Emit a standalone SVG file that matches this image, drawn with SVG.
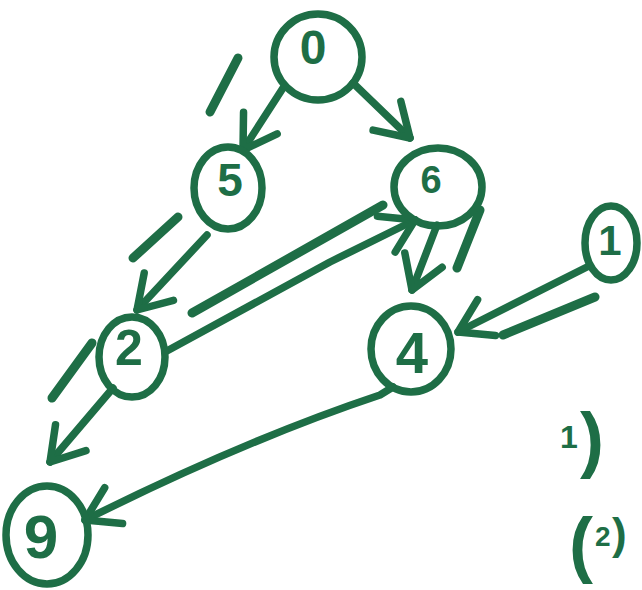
<svg xmlns="http://www.w3.org/2000/svg" width="642" height="590" viewBox="0 0 642 590">
<style>
.node{fill:none;stroke:#1e6e46;stroke-width:7.5}
.lbl{fill:#1e6e46;font-family:"Liberation Sans",Arial,sans-serif;font-weight:bold;text-anchor:middle}
.edge{fill:none;stroke:#1e6e46;stroke-width:7.5;stroke-linecap:round;stroke-linejoin:round;marker-end:url(#ah)}
.mark{fill:none;stroke:#1e6e46;stroke-width:9;stroke-linecap:round}
.note{fill:#1e6e46;font-family:"Liberation Sans",Arial,sans-serif;font-weight:bold}
</style>
<defs>
<marker id="ah" markerUnits="userSpaceOnUse" viewBox="-40 -30 50 60" refX="0" refY="0" markerWidth="50" markerHeight="60" orient="auto" overflow="visible">
<path d="M-32,-20 L0,0 L-32,20" fill="none" stroke="#1e6e46" stroke-width="7.5" stroke-linecap="round" stroke-linejoin="round"/>
</marker>
</defs>
<rect width="642" height="590" fill="#ffffff"/>
<g id="connectors">
<path class="edge" d="M283,88 L243,150"/>
<path class="edge" d="M353,83 L410,138"/>
<path class="edge" d="M207,235 L137,310"/>
<path class="edge" d="M437,225 L412,290"/>
<path class="edge" d="M165,352 L330,262 L415,220"/>
<path class="edge" d="M587,267 L458,332"/>
<path class="edge" d="M113,388 L50,462"/>
<path class="edge" d="M393,387 L380,395 Q245,440 85,520"/>
</g>
<g id="marks">
<line class="mark" x1="238" y1="58" x2="210" y2="112"/>
<line class="mark" x1="178" y1="217" x2="133" y2="258"/>
<line class="mark" x1="192" y1="313" x2="383" y2="205"/>
<line class="mark" x1="480" y1="210" x2="457" y2="268"/>
<line class="mark" x1="595" y1="297" x2="503" y2="335"/>
<line class="mark" x1="92" y1="343" x2="52" y2="398"/>
</g>
<g id="node0"><ellipse class="node" cx="318" cy="57" rx="44" ry="43"/><text class="lbl" x="313" y="64" font-size="48">0</text></g>
<g id="node5"><ellipse class="node" cx="228" cy="188" rx="34" ry="41"/><text class="lbl" x="230" y="196" font-size="46">5</text></g>
<g id="node6"><ellipse class="node" cx="438" cy="187" rx="44" ry="39"/><text class="lbl" x="431" y="193" font-size="38">6</text></g>
<g id="node2"><ellipse class="node" cx="132" cy="357" rx="33" ry="40"/><text class="lbl" x="129" y="365" font-size="50">2</text></g>
<g id="node4"><ellipse class="node" cx="411" cy="349" rx="40" ry="43"/><text class="lbl" x="412" y="373" font-size="58">4</text></g>
<g id="node1"><ellipse class="node" cx="611" cy="243" rx="26" ry="37"/><text class="lbl" x="610" y="255" font-size="42">1</text></g>
<g id="node9"><ellipse class="node" cx="47" cy="535" rx="41" ry="49"/><text class="lbl" x="41" y="558" font-size="62">9</text></g>
<text class="note"><tspan x="560" y="448" font-size="32">1</tspan><tspan x="580" y="464" font-size="72">)</tspan></text>
<text class="note"><tspan x="569" y="569" font-size="72">(</tspan><tspan x="595" y="546" font-size="28">2</tspan><tspan x="612" y="549" font-size="44">)</tspan></text>
</svg>
